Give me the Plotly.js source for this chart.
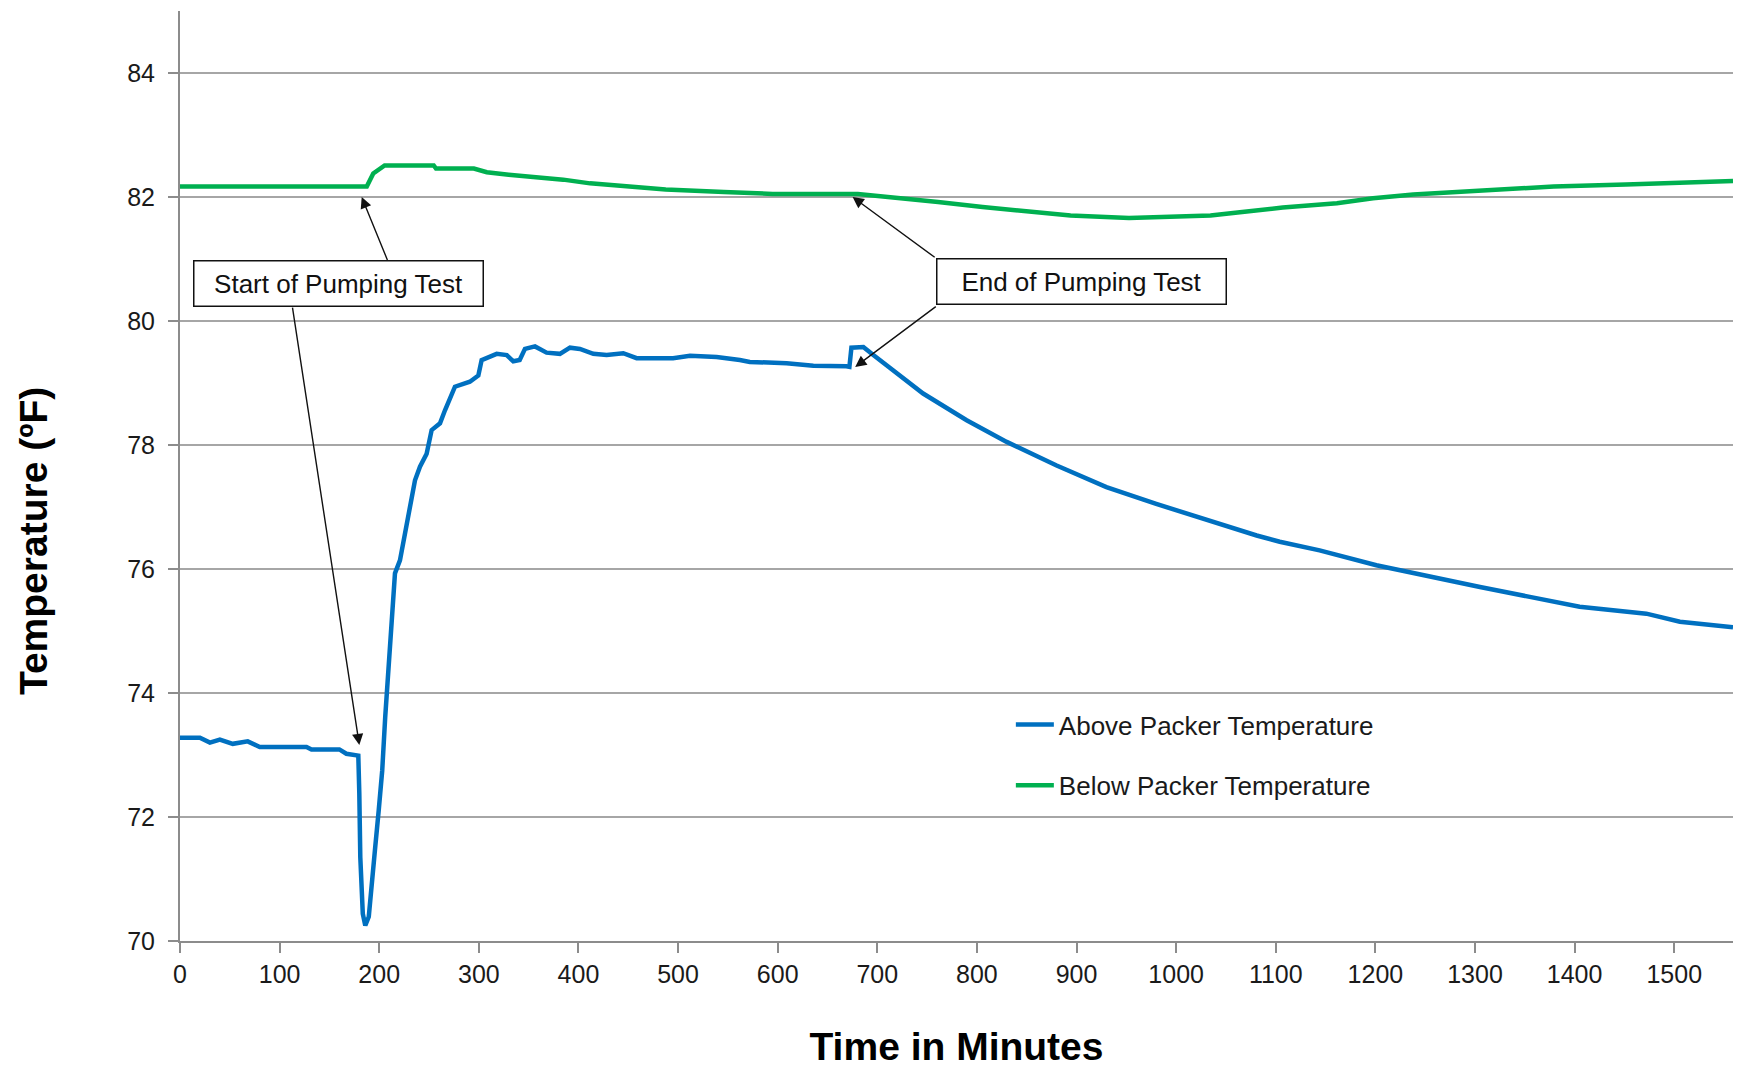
<!DOCTYPE html>
<html>
<head>
<meta charset="utf-8">
<script src="https://cdn.plot.ly/plotly-3.0.1.min.js"></script>
<style>html,body{margin:0;padding:0;background:#fff;}#chart{width:1738px;height:1068px;}</style>
</head>
<body>
<div id="chart"></div>
<script>
// Time in minutes / temperature (ºF) readings for the two probes
const aboveX = [0, 20, 30, 40, 53, 68, 80, 127, 132, 160, 167, 179, 180, 181, 183.5, 186, 189.5, 193, 196, 199.5, 203, 206, 209, 212.5, 215.8, 220.8, 225.9, 232.6, 235.9, 240.9, 247.6, 252.6, 261, 266, 276, 291, 299.5, 302.8, 317.9, 328, 334.6, 341, 346.3, 356.4, 368, 381.4, 391.5, 401.5, 414.9, 428.3, 445, 458.4, 495, 512, 538.7, 562, 572, 609, 635.8, 669, 672, 674, 686, 696, 716, 746, 789.7, 829.9, 880, 930, 980, 1030.6, 1080.8, 1104, 1144, 1201, 1254.8, 1305, 1355, 1405, 1472, 1505.7, 1559];
const aboveY = [73.28, 73.28, 73.2, 73.25, 73.18, 73.22, 73.13, 73.13, 73.09, 73.09, 73.02, 72.99, 72.38, 71.35, 70.44, 70.25, 70.39, 70.93, 71.52, 72.11, 72.75, 73.61, 74.37, 75.17, 75.93, 76.14, 76.57, 77.11, 77.43, 77.65, 77.86, 78.24, 78.35, 78.56, 78.94, 79.02, 79.12, 79.37, 79.47, 79.45, 79.35, 79.37, 79.55, 79.59, 79.49, 79.47, 79.57, 79.55, 79.47, 79.45, 79.48, 79.40, 79.40, 79.44, 79.42, 79.37, 79.34, 79.32, 79.28, 79.27, 79.26, 79.57, 79.58, 79.45, 79.2, 78.83, 78.40, 78.05, 77.67, 77.32, 77.05, 76.79, 76.54, 76.44, 76.30, 76.06, 75.87, 75.71, 75.55, 75.39, 75.28, 75.15, 75.06];

const belowX = [0, 187.5, 194, 205.4, 254.7, 257, 295, 308, 330, 353, 384.7, 411.6, 447, 487.6, 546, 595, 680.5, 720.8, 761, 805.7, 862, 894, 952.7, 1034.5, 1061.7, 1107, 1161.4, 1197.6, 1238, 1306.5, 1379, 1451.5, 1533, 1559];
const belowY = [82.17, 82.17, 82.38, 82.51, 82.51, 82.46, 82.46, 82.40, 82.36, 82.33, 82.28, 82.22, 82.17, 82.12, 82.08, 82.05, 82.05, 81.99, 81.92, 81.84, 81.75, 81.70, 81.66, 81.70, 81.75, 81.83, 81.90, 81.98, 82.04, 82.10, 82.17, 82.20, 82.25, 82.26];

const seriesNames = ["Above Packer Temperature", "Below Packer Temperature"];
const xTitle = "Time in Minutes";
const yTitle = "Temperature (ºF)";
const startLabel = "Start of Pumping Test";
const endLabel = "End of Pumping Test";

const FONT = '"Liberation Sans", Arial, sans-serif';
const BLUE = "#0070C0";
const GREEN = "#00B050";

const traces = [
  {x: aboveX, y: aboveY, name: seriesNames[0], type: "scatter", mode: "lines",
   line: {color: BLUE, width: 4.5}, legendgroup: "a"},
  {x: belowX, y: belowY, name: seriesNames[1], type: "scatter", mode: "lines",
   line: {color: GREEN, width: 4.5}, legendgroup: "b"}
];

function arrow(tipX, tipY, tailX, tailY) {
  return {x: tipX, y: tipY, xref: "x", yref: "y", ax: tailX, ay: tailY, axref: "x", ayref: "y",
    text: "", showarrow: true, arrowhead: 2, arrowsize: 1.6, arrowwidth: 1.4, arrowcolor: "#111",
    standoff: 0, startstandoff: 0};
}
function box(cx, cy, label) {
  return {x: cx, y: cy, xref: "x", yref: "y", text: label, showarrow: false,
    font: {family: FONT, size: 26, color: "#111"}, bgcolor: "#fff", bordercolor: "#111",
    borderwidth: 1.5, borderpad: 3, width: 282, height: 38, align: "center"};
}

const layout = {
  width: 1738, height: 1068,
  margin: {l: 180, r: 5, t: 11, b: 127},
  paper_bgcolor: "#fff", plot_bgcolor: "#fff",
  font: {family: FONT, size: 25, color: "#1a1a1a"},
  showlegend: true,
  legend: {x: 0.535, y: 0.258, xanchor: "left", yanchor: "top", traceorder: "grouped",
    tracegroupgap: 24, itemwidth: 38, bgcolor: "rgba(0,0,0,0)", font: {family: FONT, size: 26, color: "#1a1a1a"}},
  xaxis: {range: [0, 1559], dtick: 100, tick0: 0, showgrid: false, zeroline: false,
    showline: true, linecolor: "#8c8c8c", linewidth: 2, ticks: "outside", ticklen: 10,
    tickcolor: "#8c8c8c", tickwidth: 2, tickfont: {family: FONT, size: 25, color: "#1a1a1a"},
    title: {text: xTitle, standoff: 49, font: {family: FONT, size: 39, color: "#000", weight: "bold"}},
    automargin: false},
  yaxis: {range: [70, 85], dtick: 2, tick0: 70, showgrid: true, gridcolor: "#a6a6a6", gridwidth: 2,
    zeroline: false, showline: true, linecolor: "#8c8c8c", linewidth: 2, ticks: "outside", ticklen: 10,
    tickcolor: "#8c8c8c", tickwidth: 2, ticklabelstandoff: 8,
    tickfont: {family: FONT, size: 25, color: "#1a1a1a"}, automargin: false},
  annotations: [
    arrow(182.4, 82.0, 208.8, 80.96),
    arrow(180, 73.16, 112.7, 80.24),
    arrow(675.2, 82.0, 759.1, 81.01),
    arrow(677.8, 79.26, 760.2, 80.25),
    box(159.1, 80.6, startLabel),
    box(904.5, 80.63, endLabel),
    {x: -0.0947, y: 0.43, xref: "paper", yref: "paper", xanchor: "center", yanchor: "middle",
     text: yTitle, textangle: -90,
     showarrow: false, font: {family: FONT, size: 39, color: "#000", weight: "bold"}}
  ]
};

Plotly.newPlot("chart", traces, layout, {displayModeBar: false, staticPlot: true});
</script>
</body>
</html>
